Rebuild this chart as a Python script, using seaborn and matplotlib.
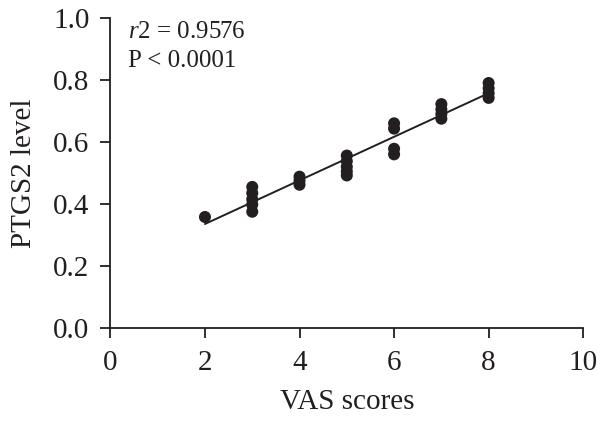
import matplotlib
matplotlib.use('Agg')
import matplotlib.pyplot as plt
import seaborn as sns
import pandas as pd

# VAS score vs PTGS2 level
vas = [2,
       3, 3, 3, 3, 3,
       4, 4, 4,
       5, 5, 5, 5, 5,
       6, 6, 6, 6,
       7, 7, 7, 7,
       8, 8, 8, 8]
ptgs2 = [0.358,
         0.455, 0.435, 0.415, 0.398, 0.375,
         0.488, 0.475, 0.462,
         0.556, 0.538, 0.52, 0.505, 0.492,
         0.66, 0.643, 0.578, 0.56,
         0.722, 0.705, 0.69, 0.675,
         0.79, 0.773, 0.757, 0.742]

df = pd.DataFrame({'VAS scores': vas, 'PTGS2 level': ptgs2})

sns.set_style('ticks')
plt.rcParams['font.family'] = ['Liberation Serif', 'DejaVu Serif']
plt.rcParams['mathtext.fontset'] = 'custom'
plt.rcParams['mathtext.it'] = 'Liberation Serif:italic'
plt.rcParams['mathtext.rm'] = 'Liberation Serif'

ink = '#231f20'
fig = plt.figure(figsize=(6, 4.26), dpi=100)
ax = fig.add_axes([0.184, 0.23, 0.788, 0.728])

sns.regplot(data=df, x='VAS scores', y='PTGS2 level', ci=None, ax=ax,
            color=ink,
            scatter_kws={'s': 75, 'alpha': 1, 'edgecolor': 'none'},
            line_kws={'linewidth': 1.4})

ax.set_xlim(0, 10)
ax.set_ylim(0, 1.0)
ax.set_xticks([0, 2, 4, 6, 8, 10])
ax.set_yticks([0.0, 0.2, 0.4, 0.6, 0.8, 1.0])
ax.set_yticklabels(['0.0', '0.2', '0.4', '0.6', '0.8', '1.0'])
ax.tick_params(labelsize=21, length=7, width=1.3, color=ink, labelcolor=ink)
ax.tick_params(axis='x', pad=9)
ax.tick_params(axis='y', pad=8)
for s in ['top', 'right']:
    ax.spines[s].set_visible(False)
for s in ['left', 'bottom']:
    ax.spines[s].set_linewidth(1.3)
    ax.spines[s].set_color(ink)

ax.set_xlabel('VAS scores', fontsize=21, color=ink, labelpad=9)
ax.set_ylabel('PTGS2 level', fontsize=21, color=ink, labelpad=12)

ax.text(0.38, 0.955, r'$\mathit{r2}$ = 0.9576', fontsize=18, color=ink, va='center')
ax.text(0.38, 0.86, 'P < 0.0001', fontsize=18, color=ink, va='center')

fig.savefig('out.png', dpi=100)
